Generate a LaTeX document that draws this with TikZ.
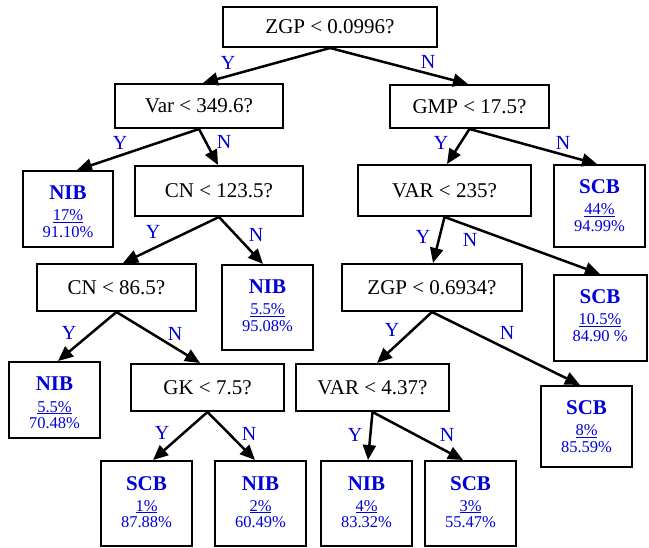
\documentclass[tikz,border=0pt]{standalone}
\usepackage{fontspec}
\setmainfont{Liberation Serif}
\usetikzlibrary{arrows.meta}
\definecolor{lblue}{RGB}{0,0,215}
\newcommand\leaftext[3]{{\fontsize{21}{21}\selectfont\bfseries #1}\\[3pt]\underline{#2}\\[-1pt]#3}
\begin{document}
\begin{tikzpicture}[x=1pt,y=-1pt,
 dec/.style={draw=black,line width=2pt,inner sep=0pt,font=\fontsize{21}{25}\selectfont},
 leaf/.style={draw=black,line width=2pt,inner sep=0pt,align=center,text=lblue,font=\fontsize{16.5}{18}\selectfont,
   minimum width=91,text height=67pt,text depth=#1},
 lbl/.style={text=lblue,font=\fontsize{20}{20}\selectfont,inner sep=0pt},
 arr/.style={line width=2.5pt,-{Triangle[length=15pt,width=13pt]}}
]
\useasboundingbox (0,0) rectangle (649,548);
\node[dec,minimum width=214,minimum height=40] (root) at (330,27) {ZGP < 0.0996?};
\node[dec,minimum width=168,minimum height=44] (var) at (199,106) {Var < 349.6?};
\node[dec,minimum width=159,minimum height=43] (gmp) at (469.5,106.5) {GMP < 17.5?};
\node[leaf=9pt,minimum width=90] (nib1) at (68,209) {\leaftext{NIB}{17\%}{91.10\%}};
\node[dec,minimum width=168,minimum height=50] (cn1) at (219,191) {CN < 123.5?};
\node[dec,minimum width=173,minimum height=51] (var2) at (444.5,190.5) {VAR < 235?};
\node[leaf=15pt] (scb1) at (599.5,206) {\leaftext{SCB}{44\%}{94.99\%}};
\node[dec,minimum width=159,minimum height=47] (cn2) at (116.5,287.5) {CN < 86.5?};
\node[leaf=18pt] (nib2) at (267.5,307.5) {\leaftext{NIB}{5.5\%}{95.08\%}};
\node[dec,minimum width=180,minimum height=47] (zgp2) at (432,287.5) {ZGP < 0.6934?};
\node[leaf=19pt,minimum width=93] (scb2) at (600,318) {\leaftext{SCB}{10.5\%}{84.90 \%}};
\node[leaf=9pt] (nib3) at (54.5,400) {\leaftext{NIB}{5.5\%}{70.48\%}};
\node[dec,minimum width=153,minimum height=47] (gk) at (207.5,387.5) {GK < 7.5?};
\node[dec,minimum width=153,minimum height=47] (var3) at (372.5,387.5) {VAR < 4.37?};
\node[leaf=14pt] (scb3) at (586.5,426.5) {\leaftext{SCB}{8\%}{85.59\%}};
\node[leaf=18pt] (scb4) at (146.5,503.5) {\leaftext{SCB}{1\%}{87.88\%}};
\node[leaf=18pt] (nib4) at (260.5,503.5) {\leaftext{NIB}{2\%}{60.49\%}};
\node[leaf=18pt] (nib5) at (366.5,503.5) {\leaftext{NIB}{4\%}{83.32\%}};
\node[leaf=18pt] (scb5) at (470.5,503.5) {\leaftext{SCB}{3\%}{55.47\%}};
% connectors
\draw[arr] (root.south) -- ([xshift=4pt]var.north) node[lbl,at={(228,63)}] {Y};
\draw[arr] (root.south) -- ([xshift=-1.5pt]gmp.north) node[lbl,at={(428,62)}] {N};
\draw[arr] (var.south) -- ([xshift=9pt]nib1.north) node[lbl,at={(120,143)}] {Y};
\draw[arr] (var.south) -- ([xshift=-1pt]cn1.north) node[lbl,at={(224,142)}] {N};
\draw[arr] (gmp.south) -- ([xshift=2.5pt]var2.north) node[lbl,at={(441,143)}] {Y};
\draw[arr] (gmp.south) -- ([xshift=-2.5pt]scb1.north) node[lbl,at={(563,143)}] {N};
\draw[arr] (cn1.south) -- ([xshift=6.5pt]cn2.north) node[lbl,at={(153,232)}] {Y};
\draw[arr] (cn1.south) -- ([xshift=-4.5pt]nib2.north) node[lbl,at={(256,235)}] {N};
\draw[arr] (var2.south) -- ([xshift=1pt]zgp2.north) node[lbl,at={(423,237)}] {Y};
\draw[arr] (var2.south) -- (scb2.north) node[lbl,at={(470,240)}] {N};
\draw[arr] (cn2.south) -- ([xshift=3.5pt]nib3.north) node[lbl,at={(69,333)}] {Y};
\draw[arr] (cn2.south) -- ([xshift=-7.5pt]gk.north) node[lbl,at={(175,334)}] {N};
\draw[arr] (zgp2.south) -- ([xshift=4.5pt]var3.north) node[lbl,at={(392,330)}] {Y};
\draw[arr] (zgp2.south) -- ([xshift=-6.5pt]scb3.north) node[lbl,at={(507,333)}] {N};
\draw[arr] (gk.south) -- ([xshift=6.5pt]scb4.north) node[lbl,at={(162,433)}] {Y};
\draw[arr] (gk.south) -- ([xshift=-5.5pt]nib4.north) node[lbl,at={(249,434)}] {N};
\draw[arr] (var3.south) -- ([xshift=1.5pt]nib5.north) node[lbl,at={(355,435)}] {Y};
\draw[arr] (var3.south) -- ([xshift=-7.5pt]scb5.north) node[lbl,at={(447,435)}] {N};
\end{tikzpicture}
\end{document}
